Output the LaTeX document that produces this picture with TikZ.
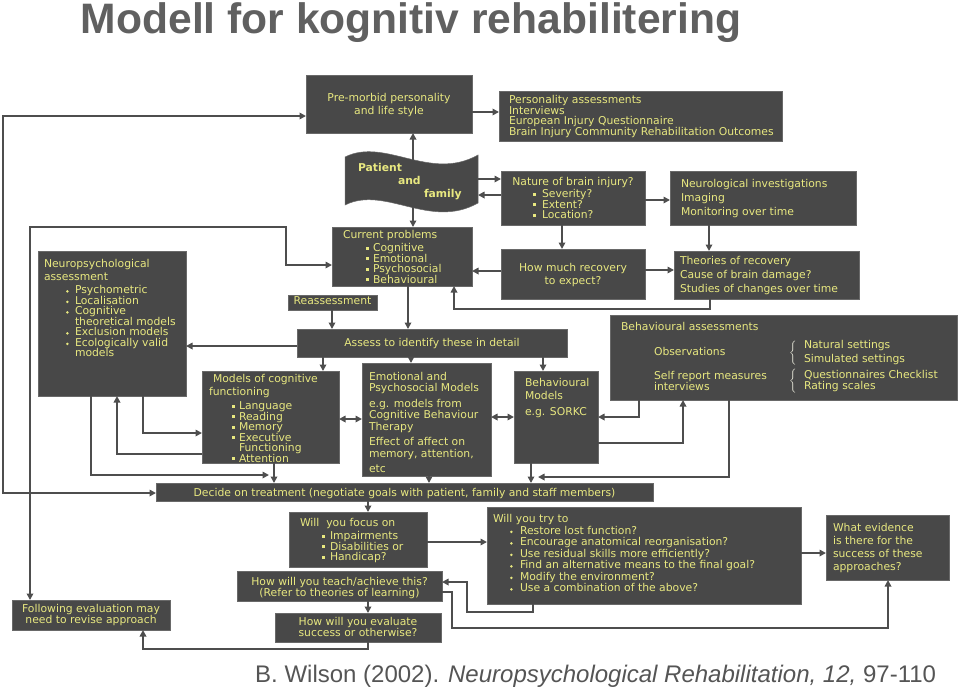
\documentclass[tikz,border=0pt]{standalone}
\usepackage{fontspec}
\setmainfont{DejaVu Sans}
\newfontfamily\arialf{Liberation Sans}
\usetikzlibrary{arrows.meta}
\definecolor{boxgray}{RGB}{72,72,72}
\definecolor{boxedge}{RGB}{105,105,105}
\definecolor{txtyel}{RGB}{232,232,128}
\definecolor{linegray}{RGB}{78,78,78}
\definecolor{titlegray}{RGB}{96,96,96}
\definecolor{citegray}{RGB}{85,85,85}
\definecolor{bracecol}{RGB}{240,240,225}

\newcommand\bx[9][]{%
  \node[box,#1] (#2) at (#3,#4) {\parbox[c][\dimexpr #6pt-#4pt\relax][t]{\dimexpr #5pt-#3pt\relax}{%
    \lineskiplimit=-100pt\lineskip=0pt #8\relax
    \vspace*{\dimexpr #7pt-#4pt+3.6pt-\baselineskip\relax}\hbox{}#9\par}};}
\newcommand\hs[1]{\hspace*{#1pt}}
\newcommand\sqmark{\raisebox{2pt}{\rule{3pt}{3pt}}}
\newcommand\dotmark{\raisebox{2.2pt}{\tikz[baseline]\fill (1.6pt,0) circle[radius=1.4pt];}}
\newcommand\sqb[3]{\hspace*{#1pt}\makebox[#2pt][l]{\sqmark}#3}
\newcommand\rdb[3]{\hspace*{#1pt}\makebox[#2pt][l]{\dotmark}#3}
\newcommand\twol[3]{\vcenter{\baselineskip=#1pt\lineskiplimit=-100pt\lineskip=0pt\hbox{#2}\hbox{#3}}}
\newcommand\brc{$\color{bracecol}\bigg\{$}

\tikzset{
  box/.style={fill=boxgray, draw=boxedge, line width=0.5pt, text=txtyel,
    anchor=north west, inner sep=0pt, outer sep=0pt,
    font=\fontsize{10.8}{10.5}\selectfont},
  arr/.style={draw=linegray, line width=1.7pt, -{Triangle[length=6.5pt,width=6.5pt]}},
  dbl/.style={draw=linegray, line width=1.7pt, {Triangle[length=6.5pt,width=6.5pt]}-{Triangle[length=6.5pt,width=6.5pt]}},
}

\begin{document}
\begin{tikzpicture}[x=1pt,y=-1pt]
\fill[white] (0,0) rectangle (960,689);
\useasboundingbox (0,0) rectangle (960,689);

% title and citation
\node[anchor=base, text=titlegray, inner sep=0pt, font=\arialf\bfseries\fontsize{42.6}{44}\selectfont] (title) at (411,33) {Modell for kognitiv rehabilitering};
\node[anchor=base west, text=citegray, inner sep=0pt, font=\arialf\fontsize{24}{26}\selectfont] (cite) at (255,682) {B. Wilson (2002). \textit{Neuropsychological Rehabilitation, 12,} 97-110};

% wave shape
\draw[fill=boxgray, draw=boxedge, line width=0.5pt] (345,157) .. controls (385,137) and (430,182) .. (478,155)
   -- (478,203) .. controls (430,230) and (385,185) .. (345,205) -- cycle;
\bx[fill=none,draw=none,font=\fontsize{10.8}{13}\selectfont\bfseries]{pat}{358}{158}{470}{204}{168}{\raggedright}{Patient\\\hs{40}and\\\hs{66}family}

% boxes
\bx{pre}{306}{75}{472}{133}{98}{\centering}{Pre-morbid personality\\[2.5pt]and life style}
\bx{pers}{499}{91}{782}{141}{100}{\raggedright\leftskip=10pt}{Personality assessments\\Interviews\\European Injury Questionnaire\\Brain Injury Community Rehabilitation Outcomes}
\bx{nature}{501}{171}{645}{225}{182}{\raggedright}{\makebox[144pt][c]{Nature of brain injury?}\\[1.5pt]\sqb{32}{9}{Severity?}\\\sqb{32}{9}{Extent?}\\\sqb{32}{9}{Location?}}
\bx{neuro}{670}{171}{856}{225}{184}{\raggedright\leftskip=11pt}{Neurological investigations\\[3.5pt]Imaging\\[3.5pt]Monitoring over time}
\bx{cur}{332}{227}{472}{286}{235}{\raggedright}{\hs{11}Current problems\\[2.5pt]\sqb{34}{7}{Cognitive}\\\sqb{34}{7}{Emotional}\\\sqb{34}{7}{Psychosocial}\\\sqb{34}{7}{Behavioural}}
\bx{howm}{501}{249}{645}{299}{268}{\centering}{How much recovery\\[2.5pt]to expect?}
\bx{theo}{674}{251}{859}{299}{261}{\raggedright\leftskip=6pt}{Theories of recovery\\[3.5pt]Cause of brain damage?\\[3.5pt]Studies of changes over time}
\bx{neuropsych}{38}{251}{186}{396}{264}{\raggedright}{\hs{6}Neuropsychological\\[2.5pt]\hs{6}assessment\\[2.5pt]\rdb{28}{9}{Psychometric}\\\rdb{28}{9}{Localisation}\\\rdb{28}{9}{Cognitive}\\\hs{37}theoretical models\\\rdb{28}{9}{Exclusion models}\\\rdb{28}{9}{Ecologically valid}\\\hs{37}models}
\bx{reass}{288}{295}{377}{310}{301}{\centering}{Reassessment}
\bx{assess}{297}{329}{567}{357}{343}{\centering}{Assess to identify these in detail}
\bx{models}{202}{371}{339}{463}{379}{\raggedright}{\hs{11}Models of cognitive\\[2.5pt]\hs{7}functioning\\[3.5pt]\sqb{30}{7}{Language}\\\sqb{30}{7}{Reading}\\\sqb{30}{7}{Memory}\\\sqb{30}{7}{Executive}\\\hs{37}Functioning\\\sqb{30}{7}{Attention}}
\bx{emot}{362}{363}{491}{476}{377}{\raggedright\leftskip=7pt}{Emotional and\\[0.5pt]Psychosocial Models\\[5.5pt]e.g. models from\\[0.5pt]Cognitive Behaviour\\[1.5pt]Therapy\\[4.5pt]Effect of affect on\\[1.5pt]memory, attention,\\[4.5pt]etc}
\bx{behm}{514}{371}{598}{463}{383}{\raggedright\leftskip=11pt}{Behavioural\\[2.5pt]Models\\[5.5pt]e.g. SORKC}
\bx{ba}{610}{315}{957}{400}{327}{\raggedright}{\hs{11}Behavioural assessments\\[14.5pt]\hs{44}\makebox[135pt][l]{Observations}\makebox[15pt][l]{\brc}$\twol{14}{Natural settings}{Simulated settings}$\\[17.5pt]\hs{44}\makebox[135pt][l]{$\twol{11}{Self report measures}{interviews}$}\makebox[15pt][l]{\brc}$\twol{11}{Questionnaires Checklist}{Rating scales}$}
\bx{decide}{156}{483}{653}{501}{493}{\centering}{Decide on treatment (negotiate goals with patient, family and staff members)}
\bx{focus}{289}{512}{427}{567}{523}{\raggedright}{\hs{11}Will\ \ you focus on\\[2.5pt]\sqb{33}{8}{Impairments}\\\sqb{33}{8}{Disabilities or}\\\sqb{33}{8}{Handicap?}}
\bx{tryb}{487}{507}{801}{604}{519}{\raggedright\baselineskip=11.5pt}{\hs{6}Will you try to\\\rdb{23}{10}{Restore lost function?}\\\rdb{23}{10}{Encourage anatomical reorganisation?}\\\rdb{23}{10}{Use residual skills more efficiently?}\\\rdb{23}{10}{Find an alternative means to the final goal?}\\\rdb{23}{10}{Modify the environment?}\\\rdb{23}{10}{Use a combination of the above?}}
\bx{evid}{826}{515}{949}{580}{528}{\raggedright\leftskip=7pt\baselineskip=13pt}{What evidence\\is there for the\\success of these\\approaches?}
\bx{teach}{237}{571}{442}{601}{582}{\centering}{How will you teach/achieve this?\\(Refer to theories of learning)}
\bx{evalb}{275}{613}{441}{642}{622}{\centering}{How will you evaluate\\success or otherwise?}
\bx{follow}{12}{600}{170}{630}{609}{\centering}{Following evaluation may\\[0.5pt]need to revise approach}

% bend points
\coordinate (L1) at (3,116);   \coordinate (L2) at (3,493);
\coordinate (M1) at (30,227);  \coordinate (M2) at (286,227); \coordinate (M3) at (286,265);
\coordinate (P1) at (0,112);
\coordinate (wt) at (413,160); \coordinate (wb) at (413,207);
\coordinate (wr1) at (478,179); \coordinate (wr2) at (478,195);
\coordinate (N1) at (0,200); \coordinate (N2) at (562,0); \coordinate (N3) at (709,0);
\coordinate (N4) at (0,270); \coordinate (N5) at (0,271);
\coordinate (T1) at (710,309); \coordinate (T2) at (454,309);
\coordinate (C1) at (408,0); \coordinate (R1) at (332,0); \coordinate (A0) at (0,346);
\coordinate (A1) at (323,0); \coordinate (A2) at (411,0); \coordinate (A3) at (543,0);
\coordinate (Q1) at (143,433); \coordinate (Q2) at (117,454);
\coordinate (Q3) at (91,475); \coordinate (Q4) at (269,475);
\coordinate (D1) at (274,0); \coordinate (D2) at (429,0); \coordinate (D3) at (531,0);
\coordinate (E1) at (0,419); \coordinate (E2) at (0,417);
\coordinate (B1) at (639,417); \coordinate (B2) at (683,443);
\coordinate (B3) at (729,477); \coordinate (B4) at (538,477);
\coordinate (F0) at (368,0); \coordinate (F1) at (0,542); \coordinate (F2) at (0,553);
\coordinate (G1) at (533,612); \coordinate (G2) at (467,612); \coordinate (G3) at (467,582);
\coordinate (H1) at (452,592); \coordinate (H2) at (452,628); \coordinate (H3) at (888,628);
\coordinate (K1) at (368,649); \coordinate (K2) at (143,649);

% connectors
\draw[dbl] (L1 -| pre.west) -- (L1) -- (L2) -- (L2 -| decide.west);
\draw[dbl] (M1 |- follow.north) -- (M1) -- (M2) -- (M3) -- (M3 -| cur.west);
\draw[arr] (P1 -| pre.east) -- (P1 -| pers.west);
\draw[arr] (wt) -- (wt |- pre.south);
\draw[arr] (wb) -- (wb |- cur.north);
\draw[arr] (wr1) -- (wr1 -| nature.west);
\draw[arr] (wr2 -| nature.west) -- (wr2);
\draw[arr] (N1 -| nature.east) -- (N1 -| neuro.west);
\draw[arr] (N2 |- nature.south) -- (N2 |- howm.north);
\draw[arr] (N3 |- neuro.south) -- (N3 |- theo.north);
\draw[arr] (N4 -| howm.east) -- (N4 -| theo.west);
\draw[arr] (N5 -| howm.west) -- (N5 -| cur.east);
\draw[arr] (T1 |- theo.south) -- (T1) -- (T2) -- (T2 |- cur.south);
\draw[arr] (C1 |- cur.south) -- (C1 |- assess.north);
\draw[arr] (R1 |- reass.south) -- (R1 |- assess.north);
\draw[arr] (A0 -| assess.west) -- (A0 -| neuropsych.east);
\draw[arr] (A1 |- assess.south) -- (A1 |- models.north);
\draw[arr] (A2 |- assess.south) -- (A2 |- emot.north);
\draw[arr] (A3 |- assess.south) -- (A3 |- behm.north);
\draw[arr] (Q1 |- neuropsych.south) -- (Q1) -- (Q1 -| models.west);
\draw[arr] (Q2 -| models.west) -- (Q2) -- (Q2 |- neuropsych.south);
\draw[arr] (Q3 |- neuropsych.south) -- (Q3) -- (Q4);
\draw[arr] (D1 |- models.south) -- (D1 |- decide.north);
\draw[arr] (D2 |- emot.south) -- (D2 |- decide.north);
\draw[arr] (D3 |- behm.south) -- (D3 |- decide.north);
\draw[dbl] (E1 -| models.east) -- (E1 -| emot.west);
\draw[dbl] (E2 -| emot.east) -- (E2 -| behm.west);
\draw[arr] (B1 |- ba.south) -- (B1) -- (B1 -| behm.east);
\draw[arr] (B2 -| behm.east) -- (B2) -- (B2 |- ba.south);
\draw[arr] (B3 |- ba.south) -- (B3) -- (B4);
\draw[arr] (F0 |- decide.south) -- (F0 |- focus.north);
\draw[arr] (F1 -| focus.east) -- (F1 -| tryb.west);
\draw[arr] (F2 -| tryb.east) -- (F2 -| evid.west);
\draw[arr] (G1 |- tryb.south) -- (G1) -- (G2) -- (G3) -- (G3 -| teach.east);
\draw[arr] (H1 -| teach.east) -- (H1) -- (H2) -- (H3) -- (H3 |- evid.south);
\draw[arr] (F0 |- teach.south) -- (F0 |- evalb.north);
\draw[arr] (K1 |- evalb.south) -- (K1) -- (K2) -- (K2 |- follow.south);
\end{tikzpicture}
\end{document}
